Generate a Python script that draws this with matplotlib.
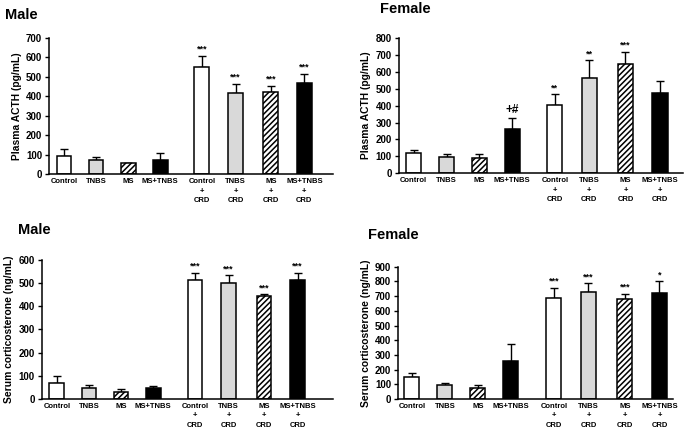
import matplotlib
matplotlib.use('Agg')
import matplotlib.pyplot as plt

plt.rcParams['font.family'] = ['Liberation Sans', 'DejaVu Sans']
plt.rcParams['font.weight'] = 'bold'
plt.rcParams['hatch.linewidth'] = 1.1

# grupy
kategorie = ['Control', 'TNBS', 'MS', 'MS+TNBS',
             'Control\n+\nCRD', 'TNBS\n+\nCRD', 'MS\n+\nCRD', 'MS+TNBS\n+\nCRD']

# ACTH samce / samice (srednia, gorny koniec slupka bledu)
acth_m = [95, 75, 55, 75, 550, 415, 420, 470]
acth_m_top = [130, 90, 58, 108, 610, 465, 455, 515]
acth_f = [121, 95, 90, 262, 405, 563, 648, 477]
acth_f_top = [135, 112, 112, 329, 466, 667, 720, 543]

# kortykosteron samce / samice
cort_m = [68, 47, 30, 47, 512, 500, 443, 515]
cort_m_top = [100, 60, 42, 57, 545, 533, 452, 543]
cort_f = [152, 97, 78, 260, 688, 730, 680, 725]
cort_f_top = [178, 112, 97, 372, 758, 787, 715, 802]

gwiazdki_acth_m = ['', '', '', '', '***', '***', '***', '***']
gwiazdki_acth_f = ['', '', '', '+#', '**', '**', '***', '']
gwiazdki_cort_m = ['', '', '', '', '***', '***', '***', '***']
gwiazdki_cort_f = ['', '', '', '', '***', '***', '***', '*']

pozycje = [0, 1, 2, 3, 4.3, 5.35, 6.45, 7.5]
kolory = ['white', '#d9d9d9', 'white', 'black'] * 2
kreski = [None, None, '//////', None] * 2


def rysuj_panel(fig, rect, wartosci, gora, gwiazdki, ymax, krok, ylabel, tytul, xlim, tytul_xy):
    ax = fig.add_axes(rect)
    bledy = [g - w for w, g in zip(wartosci, gora)]
    for x, w, b, k, h in zip(pozycje, wartosci, bledy, kolory, kreski):
        ax.bar(x, w, width=0.46, color=k, edgecolor='black', linewidth=1.1, hatch=h, zorder=2)
        ax.errorbar(x, w, yerr=[[0], [b]], fmt='none', ecolor='black', elinewidth=1.0,
                    capsize=3, capthick=1.0, zorder=1)
    for x, g, s in zip(pozycje, gora, gwiazdki):
        if s:
            rozmiar = 8.5 if '#' in s else 6.5
            ax.annotate(s, (x, g), xytext=(0, 1.5), textcoords='offset points',
                        ha='center', va='bottom', fontsize=rozmiar, fontweight='bold')
    ax.set_ylim(0, ymax)
    ax.set_xlim(*xlim)
    ax.set_yticks(range(0, ymax + 1, krok))
    ax.set_xticks(pozycje)
    ax.set_xticklabels(kategorie, fontsize=5.5, fontweight='bold', linespacing=1.45, va='top')
    ax.tick_params(axis='x', length=0, pad=3)
    ax.tick_params(axis='y', length=3, width=1.0, labelsize=7, pad=2)
    for lab in ax.get_yticklabels():
        lab.set_fontweight('bold')
    ax.spines['top'].set_visible(False)
    ax.spines['right'].set_visible(False)
    ax.spines['left'].set_linewidth(1.1)
    ax.spines['bottom'].set_linewidth(1.1)
    ax.set_ylabel(ylabel, fontsize=7.4, fontweight='bold', labelpad=3)
    fig.text(tytul_xy[0], tytul_xy[1], tytul, fontsize=10.5, fontweight='bold', ha='left', va='center')
    return ax


fig = plt.figure(figsize=(6.85, 4.32), dpi=100)

rysuj_panel(fig, [0.0715, 0.597, 0.415, 0.315], acth_m, acth_m_top, gwiazdki_acth_m,
            700, 100, 'Plasma ACTH (pg/mL)', 'Male', (-0.47, 8.4), (0.008, 0.965))
rysuj_panel(fig, [0.582, 0.599, 0.415, 0.313], acth_f, acth_f_top, gwiazdki_acth_f,
            800, 100, 'Plasma ACTH (pg/mL)', 'Female', (-0.46, 8.2), (0.555, 0.98))
rysuj_panel(fig, [0.061, 0.0764, 0.425, 0.322], cort_m, cort_m_top, gwiazdki_cort_m,
            600, 100, 'Serum corticosterone (ng/mL)', 'Male', (-0.47, 8.6), (0.027, 0.468))
rysuj_panel(fig, [0.581, 0.0764, 0.401, 0.306], cort_f, cort_f_top, gwiazdki_cort_f,
            900, 100, 'Serum corticosterone (ng/mL)', 'Female', (-0.42, 7.9), (0.537, 0.455))

fig.savefig('out.png', dpi=100)
